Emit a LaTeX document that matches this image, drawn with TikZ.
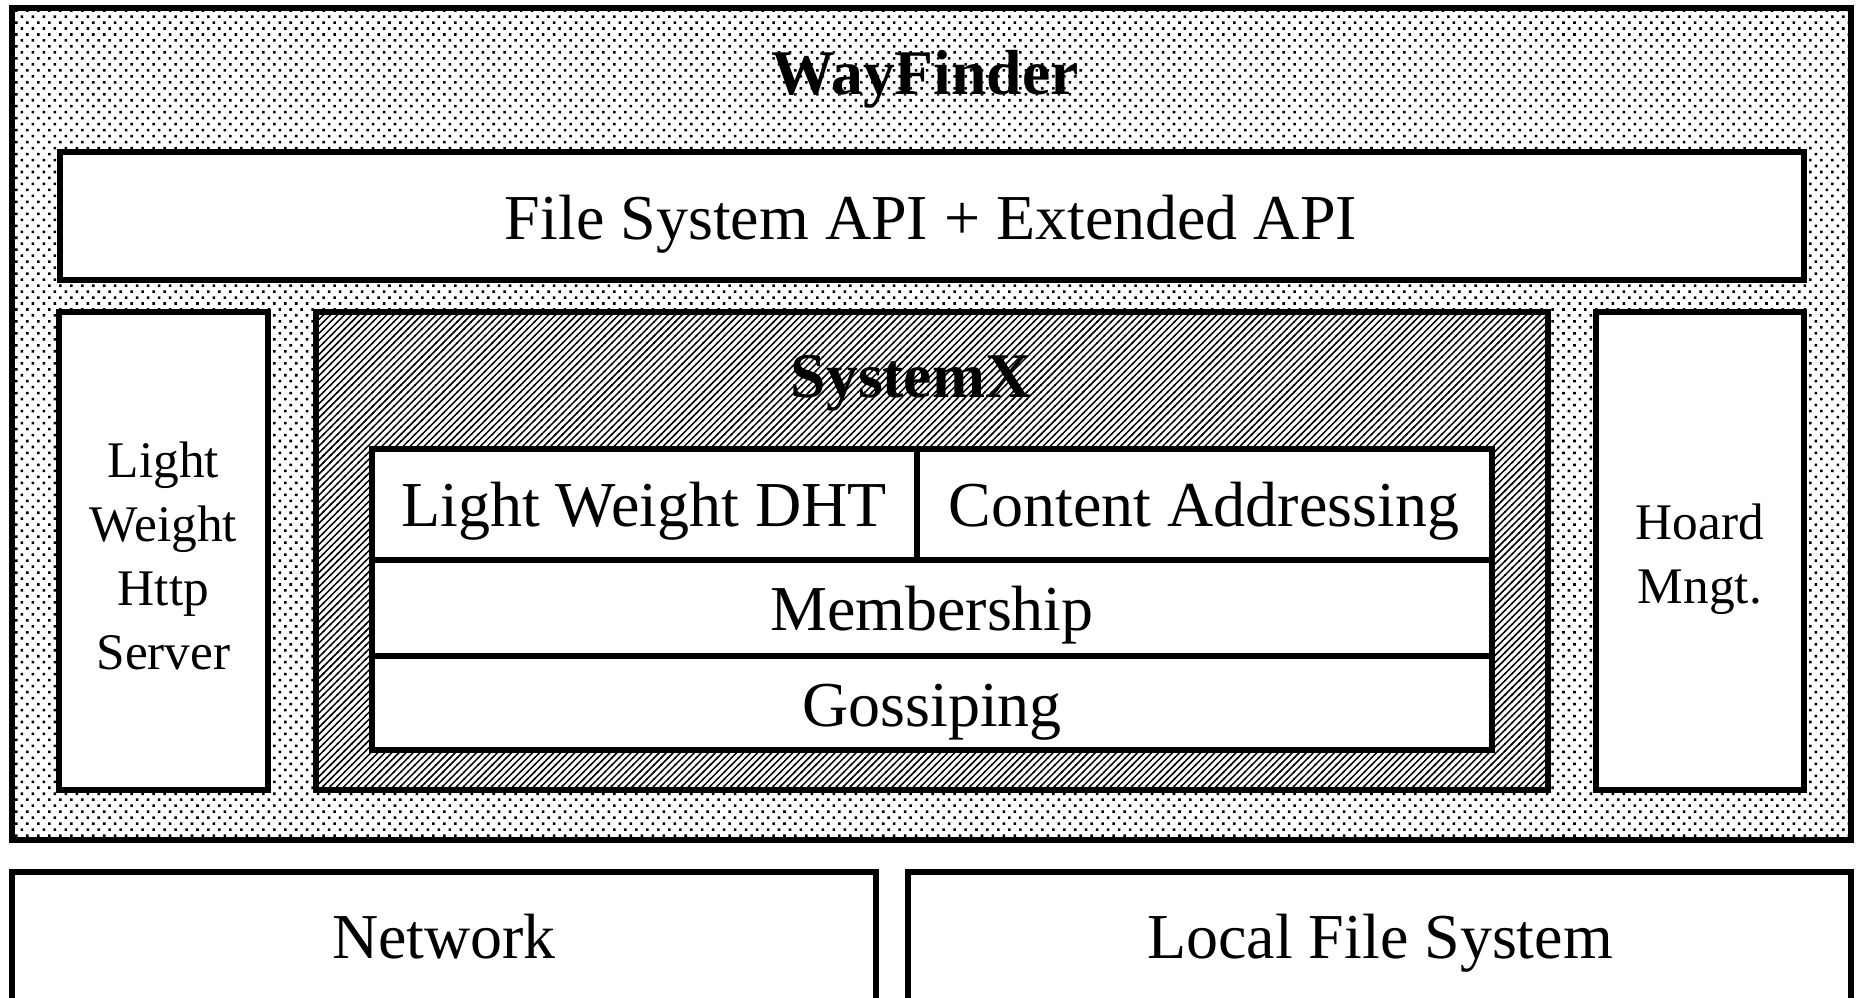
\documentclass[tikz,border=0pt]{standalone}
\usepackage{fontspec}
\setmainfont{Liberation Serif}
\usetikzlibrary{patterns}

% staggered dot screen for the WayFinder frame
\pgfdeclarepatternformonly{wfdots}{\pgfqpoint{-0.5pt}{-0.5pt}}{\pgfqpoint{3.6pt}{3.9pt}}{\pgfqpoint{3.12pt}{3.4pt}}{%
  \pgfpathrectangle{\pgfqpoint{-0.36pt}{-0.36pt}}{\pgfqpoint{0.72pt}{0.72pt}}%
  \pgfpathrectangle{\pgfqpoint{1.2pt}{1.34pt}}{\pgfqpoint{0.72pt}{0.72pt}}%
  \pgfusepath{fill}}

% fine diagonal hatching for the SystemX frame
\pgfdeclarepatternformonly{wfhatch}{\pgfqpoint{-0.5pt}{-0.5pt}}{\pgfqpoint{2.5pt}{2.5pt}}{\pgfqpoint{2pt}{2pt}}{%
  \pgfsetlinewidth{0.42pt}%
  \pgfpathmoveto{\pgfqpoint{-0.2pt}{-0.2pt}}%
  \pgfpathlineto{\pgfqpoint{2.2pt}{2.2pt}}%
  \pgfusepath{stroke}}

\tikzset{
  frame/.style={draw=black, line width=0.055cm},
  whitebox/.style={frame, fill=white},
  dotted screen/.style={frame, preaction={fill=white}, pattern=wfdots},
  hatched/.style={frame, preaction={fill=white}, pattern=wfhatch},
  label/.style={anchor=base, inner sep=0pt, font=\fontsize{18.2}{22}\selectfont},
  title/.style={anchor=base, inner sep=0pt, font=\bfseries\fontsize{18.1}{22}\selectfont},
  side/.style={anchor=center, align=center, inner sep=0pt, font=\fontsize{14.6}{18.2}\selectfont},
}

\begin{document}
\begin{tikzpicture}[x=0.01cm, y=-0.01cm]
  \useasboundingbox (0,0) rectangle (1858,997);
  \clip (0,0) rectangle (1858,997);
  \fill[white] (0,0) rectangle (1858,997);

  % outer WayFinder frame
  \coordinate (wfA) at (12,8);
  \coordinate (wfB) at (1851,840);
  \path[dotted screen] (wfA) rectangle (wfB);
  \node[title] (wayfinder) at (925,95) {WayFinder};

  % API bar
  \coordinate (apiA) at (60,152);
  \coordinate (apiB) at (1804,280);
  \path[whitebox] (apiA) rectangle (apiB);
  \node[label] (api) at (931,239) {File System API + Extended API};

  % side boxes
  \coordinate (httpA) at (59,312);
  \coordinate (httpB) at (268,790);
  \path[whitebox] (httpA) rectangle (httpB);
  \node[side] (http) at (163.5,556) {Light\\Weight\\Http\\Server};

  \coordinate (hoardA) at (1596,312);
  \coordinate (hoardB) at (1804,790);
  \path[whitebox] (hoardA) rectangle (hoardB);
  \node[side] (hoard) at (1700,559) {Hoard\\Mngt.};

  % SystemX frame
  \coordinate (sxA) at (316,312);
  \coordinate (sxB) at (1548,790);
  \path[hatched] (sxA) rectangle (sxB);
  \node[title] (systemx) at (911,397) {SystemX};

  % SystemX layer stack
  \coordinate (stA) at (372,449);
  \coordinate (stB) at (1492,750);
  \path[whitebox] (stA) rectangle (stB);
  \coordinate (r1L) at (372,560);
  \coordinate (r1R) at (1492,560);
  \coordinate (r2L) at (372,656);
  \coordinate (r2R) at (1492,656);
  \coordinate (dvT) at (917,449);
  \coordinate (dvB) at (917,560);
  \draw[frame] (r1L) -- (r1R);
  \draw[frame] (r2L) -- (r2R);
  \draw[frame] (dvT) -- (dvB);

  \node[label] (dht) at (644,526) {Light Weight DHT};
  \node[label] (content) at (1204,526) {Content Addressing};
  \node[label] (member) at (932,630) {Membership};
  \node[label] (gossip) at (932,726) {Gossiping};

  % lower platform boxes
  \coordinate (netA) at (12,872);
  \coordinate (netB) at (876,1100);
  \path[whitebox] (netA) rectangle (netB);
  \node[label] (network) at (444,958) {Network};

  \coordinate (lfsA) at (908,872);
  \coordinate (lfsB) at (1851,1100);
  \path[whitebox] (lfsA) rectangle (lfsB);
  \node[label] (localfs) at (1380,958) {Local File System};
\end{tikzpicture}
\end{document}
